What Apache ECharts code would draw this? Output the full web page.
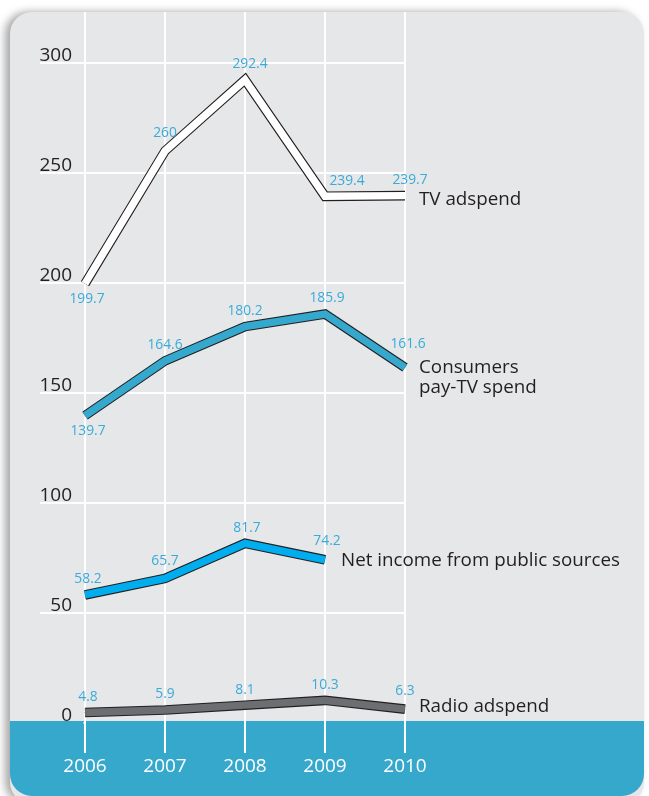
<!DOCTYPE html>
<html>
<head>
<meta charset="utf-8">
<script src="https://cdn.jsdelivr.net/npm/echarts@6/dist/echarts.min.js"></script>
<style>
html,body{margin:0;padding:0;background:#fff;}
#chart{width:649px;height:796px;}
</style>
</head>
<body>
<div id="chart"></div>
<script>
// ---- data ----
var years = ['2006', '2007', '2008', '2009', '2010'];
var tvAdspend = [199.7, 260, 292.4, 239.4, 239.7];
var payTvSpend = [139.7, 164.6, 180.2, 185.9, 161.6];
var publicIncome = [58.2, 65.7, 81.7, 74.2];
var radioAdspend = [4.8, 5.9, 8.1, 10.3, 6.3];
var yTicks = { min: 0, max: 300, interval: 50 };

// ---- label placement (style only) ----
var tvLabelPos = [['bottom', [2, 0]], ['top', [0, -2]], ['top', [5, 0]], ['top', [22, 0]], ['top', [5, 0]]];
var payLabelPos = [['bottom', [3, 0]], ['top', [0, 0]], ['top', [0, 0]], ['top', [2, 0]], ['top', [3, -8]]];
var pubLabelPos = [['top', [3, 0]], ['top', [0, -2]], ['top', [2, 0]], ['top', [2, -3]]];
var radioLabelPos = [['top', [3, 0]], ['top', [0, 0]], ['top', [0, 0]], ['top', [0, 0]], ['top', [0, -3]]];

var labelBlue = '#3aabd8';
var dark = '#231f20';
var font = 'Open Sans';

function withLabels(values, pos) {
  return values.map(function (v, i) {
    return { value: v, label: { position: pos[i][0], offset: pos[i][1] } };
  });
}

function outline(values) {
  return {
    type: 'line', data: values, symbol: 'none', z: 3, silent: true,
    lineStyle: { color: '#231f20', width: 9.6, cap: 'butt', join: 'miter' }
  };
}

function fill(name, values, pos, color, endOffset) {
  return {
    type: 'line', name: name, data: withLabels(values, pos), z: 4,
    symbol: 'circle', symbolSize: 1, itemStyle: { color: color },
    lineStyle: { color: color, width: 7.4, cap: 'butt', join: 'miter' },
    label: { show: true, color: labelBlue, fontFamily: font, fontSize: 13.8, distance: 8 },
    endLabel: {
      show: true, formatter: name, color: dark, fontFamily: font, fontSize: 18.8,
      lineHeight: 20, offset: endOffset, align: 'left'
    }
  };
}

var chart = echarts.init(document.getElementById('chart'));
chart.setOption({
  animation: false,
  backgroundColor: '#ffffff',
  graphic: [
    {
      type: 'rect', z: -10, silent: true,
      shape: { x: 10, y: 12, width: 634, height: 792, r: 22 },
      style: { fill: '#e6e7e8', shadowBlur: 8, shadowOffsetX: -5, shadowOffsetY: 0, shadowColor: 'rgba(0,0,0,0.35)' }
    },
    {
      type: 'rect', z: -9, silent: true,
      shape: { x: 10, y: 721, width: 634, height: 75, r: [0, 0, 22, 22] },
      style: { fill: '#35a8cc' }
    },
    {
      type: 'rect', z: 1, silent: true,
      shape: { x: 30, y: 721, width: 53.5, height: 4 },
      style: { fill: '#35a8cc' }
    }
  ],
  grid: { left: 85, right: 244, top: 63, bottom: 73 },
  xAxis: [
    {
      type: 'category', data: years, boundaryGap: false,
      axisLine: { show: false },
      axisTick: { show: true, length: 30, lineStyle: { color: '#ffffff', width: 2 } },
      axisLabel: { color: '#ffffff', fontFamily: font, fontSize: 19, margin: 34 },
      splitLine: { show: true, lineStyle: { color: '#ffffff', width: 2 } }
    },
    {
      type: 'category', data: years, boundaryGap: false, position: 'top',
      axisLine: { show: false },
      axisTick: { show: true, length: 51, lineStyle: { color: '#ffffff', width: 2 } },
      axisLabel: { show: false },
      splitLine: { show: false }
    }
  ],
  yAxis: {
    type: 'value', min: yTicks.min, max: yTicks.max, interval: yTicks.interval,
    axisLine: { show: false },
    axisTick: { show: true, length: 45, lineStyle: { color: '#ffffff', width: 2 } },
    axisLabel: { color: dark, fontFamily: font, fontSize: 19, align: 'right', margin: 13, verticalAlign: 'bottom', lineHeight: 15 },
    splitLine: { show: true, showMinLine: false, lineStyle: { color: '#ffffff', width: 2 } }
  },
  series: [
    outline(tvAdspend),
    fill('TV adspend', tvAdspend, tvLabelPos, '#ffffff', [6, 4]),
    outline(payTvSpend),
    fill('Consumers\npay-TV spend', payTvSpend, payLabelPos, '#35a8cd', [6, 10]),
    outline(publicIncome),
    fill('Net income from public sources', publicIncome, pubLabelPos, '#00aeef', [8, 1]),
    outline(radioAdspend),
    fill('Radio adspend', radioAdspend, radioLabelPos, '#6d6e71', [6, -2])
  ]
});
</script>
</body>
</html>
